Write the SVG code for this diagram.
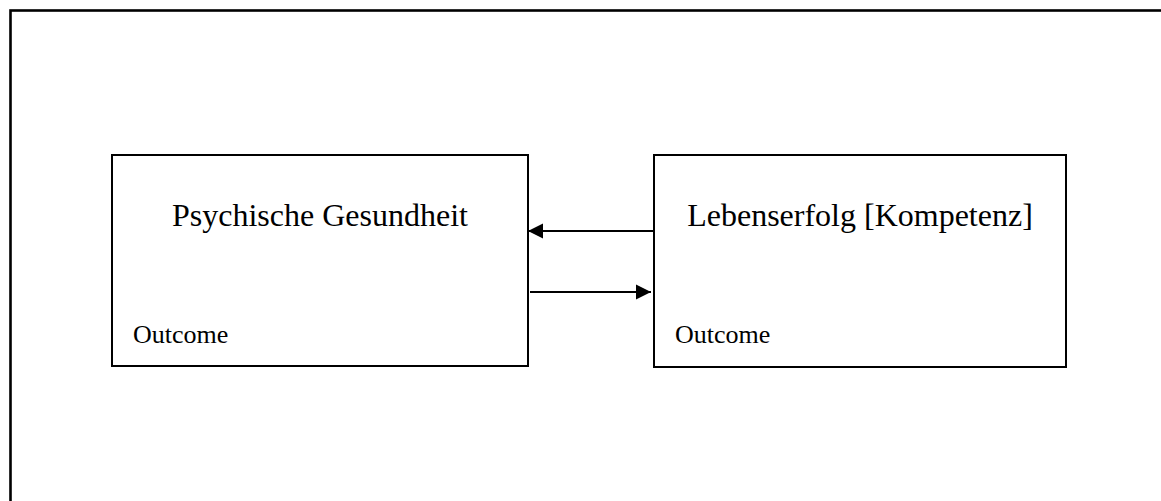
<svg xmlns="http://www.w3.org/2000/svg" width="1161" height="501" viewBox="0 0 1161 501">
  <style>
    .frame { fill: none; stroke: #000; stroke-width: 2.6; }
    .box { fill: #fff; stroke: #000; stroke-width: 2; }
    .title { font-family: "Liberation Serif", "Times New Roman", serif; font-size: 32px; fill: #000; text-anchor: middle; }
    .tag { font-family: "Liberation Serif", "Times New Roman", serif; font-size: 26px; fill: #000; }
    .edge { fill: none; stroke: #000; stroke-width: 2; }
  </style>
  <defs>
    <marker id="arrow" markerUnits="userSpaceOnUse" markerWidth="16" markerHeight="16" viewBox="0 0 16 16" refX="15" refY="8" orient="auto">
      <path d="M0,0.5 L15,8 L0,15.5 Z" fill="#000"/>
    </marker>
  </defs>

  <rect id="frame" class="frame" x="10.5" y="10.5" width="1170" height="520"/>

  <g id="node-psychische-gesundheit">
    <rect class="box" x="112" y="155" width="416" height="211"/>
    <text class="title" x="320" y="226">Psychische Gesundheit</text>
    <text class="tag" x="133" y="343">Outcome</text>
  </g>

  <g id="node-lebenserfolg">
    <rect class="box" x="654" y="155" width="412" height="212"/>
    <text class="title" x="860" y="226">Lebenserfolg [Kompetenz]</text>
    <text class="tag" x="675" y="343">Outcome</text>
  </g>

  <g id="connectors">
    <line class="edge" x1="653" y1="231" x2="528" y2="231" marker-end="url(#arrow)"/>
    <line class="edge" x1="530" y1="292" x2="651" y2="292" marker-end="url(#arrow)"/>
  </g>
</svg>
